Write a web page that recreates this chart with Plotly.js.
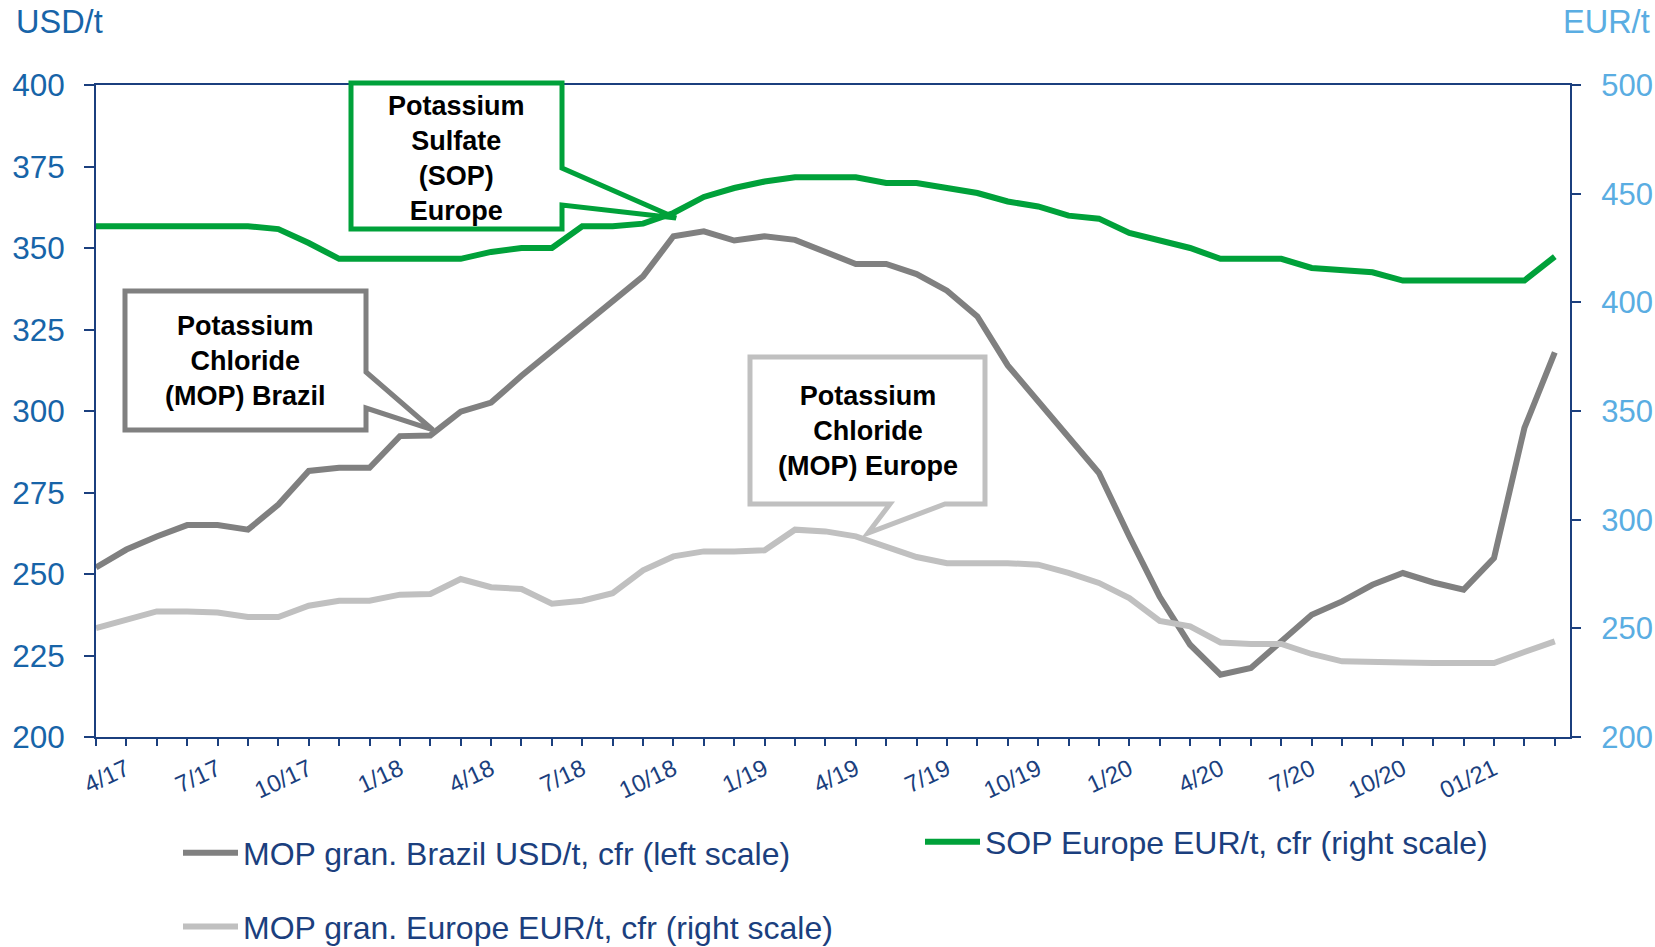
<!DOCTYPE html>
<html><head><meta charset="utf-8">
<script src="https://cdn.plot.ly/plotly-3.0.1.min.js"></script>
<style>html,body{margin:0;padding:0;background:#fff}#chart{width:1655px;height:947px}</style>
</head><body><div id="chart"></div>
<script>
// ---- data ----
const months = ['Mar 2017','Apr 2017','May 2017','Jun 2017','Jul 2017','Aug 2017','Sep 2017','Oct 2017','Nov 2017','Dec 2017',
  'Jan 2018','Feb 2018','Mar 2018','Apr 2018','May 2018','Jun 2018','Jul 2018','Aug 2018','Sep 2018','Oct 2018','Nov 2018','Dec 2018',
  'Jan 2019','Feb 2019','Mar 2019','Apr 2019','May 2019','Jun 2019','Jul 2019','Aug 2019','Sep 2019','Oct 2019','Nov 2019','Dec 2019',
  'Jan 2020','Feb 2020','Mar 2020','Apr 2020','May 2020','Jun 2020','Jul 2020','Aug 2020','Sep 2020','Oct 2020','Nov 2020','Dec 2020',
  'Jan 2021','Feb 2021','Mar 2021'];
const tickMonths = ['Apr 2017','Jul 2017','Oct 2017','Jan 2018','Apr 2018','Jul 2018','Oct 2018','Jan 2019',
  'Apr 2019','Jul 2019','Oct 2019','Jan 2020','Apr 2020','Jul 2020','Oct 2020','Jan 2021'];
const tickLabels = ['4/17','7/17','10/17','1/18','4/18','7/18','10/18','1/19',
  '4/19','7/19','10/19','1/20','4/20','7/20','10/20','01/21'];

const mopBrazilUSD = [252, 257.5, 261.5, 265, 265, 263.6, 271.3, 281.6, 282.6, 282.6,
  292.3, 292.5, 299.8, 302.6, 310.8, 318.4, 326, 333.5, 341.3, 353.6,
  355.1, 352.3, 353.6, 352.5, 348.8, 345.1, 345.1, 342, 336.9, 329,
  314, 303, 291.5, 281, 261.5, 243, 228.3, 219.1, 221.2, 229.4,
  237.5, 241.6, 246.7, 250.3, 247.4, 245.2, 254.9, 294.8, 318];
const sopEuropeEUR = [435, 435, 435, 435, 435, 435, 433.7, 427.3, 420, 420,
  420, 420, 420, 423.2, 425, 425, 435, 435, 436.2, 441.1,
  448.5, 452.6, 455.6, 457.5, 457.5, 457.5, 454.9, 454.9, 452.6, 450.3,
  446.4, 444.1, 439.9, 438.5, 431.9, 428.8, 425, 420, 420, 420,
  415.8, 415, 413.8, 410, 410, 410, 410, 410, 421];
const mopEuropeEUR = [250.1, 253.9, 257.8, 257.8, 257.3, 255.2, 255.2, 260.4, 262.7, 262.7,
  265.5, 265.8, 272.7, 268.9, 268.1, 261.3, 262.7, 266.2, 276.7, 283.1,
  285.4, 285.4, 285.9, 295.4, 294.6, 292.3, 287.7, 282.8, 280, 280,
  280, 279.3, 275.5, 270.9, 263.9, 253.4, 250.9, 243.5, 242.8, 242.8,
  238.2, 234.8, 234.8, 234.3, 234, 234, 234, 239.1, 244];

const seriesNames = ['MOP gran. Brazil USD/t, cfr (left scale)',
  'SOP Europe EUR/t, cfr (right scale)',
  'MOP gran. Europe EUR/t, cfr (right scale)'];

// ---- styling ----
const FONT = '"Liberation Sans", Arial, sans-serif';
const NAVY = '#1B3F7E';
const BLUE = '#1764A8';
const LIGHTBLUE = '#5AADE2';
const DARKGRAY = '#808080';
const LIGHTGRAY = '#C0C0C0';
const GREEN = '#00A13A';

const W = 1655, H = 947;
const M = {l: 96, r: 85, t: 85, b: 210, autoexpand: false};
const PW = W - M.l - M.r, PH = H - M.t - M.b;
const px = x => (x - M.l) / PW;       // pixel -> paper x
const py = y => (H - M.b - y) / PH;   // pixel -> paper y
function pathPx(pts) {
  return 'M' + pts.map(p => px(p[0]).toFixed(5) + ',' + py(p[1]).toFixed(5)).join(' L') + ' Z';
}

const tickText = months.map(m => { const k = tickMonths.indexOf(m); return k >= 0 ? tickLabels[k] : ''; });

const traces = [
  {x: months, y: mopBrazilUSD, name: seriesNames[0], type: 'scatter', mode: 'lines', yaxis: 'y',
   line: {color: DARKGRAY, width: 6}, legend: 'legend', legendgroup: 'a', legendrank: 1},
  {x: months, y: mopEuropeEUR, name: seriesNames[2], type: 'scatter', mode: 'lines', yaxis: 'y2',
   line: {color: LIGHTGRAY, width: 6}, legend: 'legend', legendgroup: 'b', legendrank: 2},
  {x: months, y: sopEuropeEUR, name: seriesNames[1], type: 'scatter', mode: 'lines', yaxis: 'y2',
   line: {color: GREEN, width: 6}, legend: 'legend2', legendgroup: 'c', legendrank: 3}
];

const calloutFont = {family: FONT, size: 27, color: '#000'};
const layout = {
  width: W, height: H, margin: M,
  paper_bgcolor: '#fff', plot_bgcolor: '#fff',
  font: {family: FONT},
  hovermode: false,
  xaxis: {type: 'category', range: [0, 48.5], tickmode: 'array', tickvals: months, ticktext: tickText,
    tickangle: -25, ticks: 'outside', ticklen: 7, tickwidth: 2, tickcolor: NAVY, automargin: false,
    showline: true, linecolor: NAVY, linewidth: 2, mirror: true, showgrid: false, zeroline: false,
    tickfont: {family: FONT, size: 24, color: NAVY}, fixedrange: true},
  yaxis: {range: [200, 400], tick0: 200, dtick: 25, ticks: 'outside', ticklen: 10, tickwidth: 2, tickcolor: NAVY,
    showline: true, linecolor: NAVY, linewidth: 2, showgrid: false, zeroline: false, automargin: false,
    tickfont: {family: FONT, size: 31.5, color: BLUE}, ticklabelstandoff: 13},
  yaxis2: {overlaying: 'y', side: 'right', range: [200, 500], tick0: 200, dtick: 50, ticks: 'outside', ticklen: 9,
    tickwidth: 2, tickcolor: NAVY, showline: true, linecolor: NAVY, linewidth: 2, showgrid: false, zeroline: false,
    automargin: false, tickfont: {family: FONT, size: 31, color: LIGHTBLUE}, ticklabelstandoff: 14},
  showlegend: true,
  legend: {x: px(178), y: py(825.5), xanchor: 'left', yanchor: 'top', orientation: 'v',
    font: {family: FONT, size: 32, color: NAVY}, tracegroupgap: 29, itemwidth: 55, bgcolor: 'rgba(0,0,0,0)'},
  legend2: {x: px(920), y: py(814.5), xanchor: 'left', yanchor: 'top', orientation: 'v',
    font: {family: FONT, size: 32, color: NAVY}, itemwidth: 55, bgcolor: 'rgba(0,0,0,0)'},
  shapes: [
    {type: 'path', xref: 'paper', yref: 'paper', layer: 'above', line: {color: GREEN, width: 5}, fillcolor: 'rgba(0,0,0,0)',
     path: pathPx([[562,168],[562,83],[351,83],[351,229],[562,229],[562,205],[676,218]])},
    {type: 'path', xref: 'paper', yref: 'paper', layer: 'above', line: {color: DARKGRAY, width: 5}, fillcolor: 'rgba(0,0,0,0)',
     path: pathPx([[366,372],[366,291],[125,291],[125,430],[366,430],[366,408],[433,430]])},
    {type: 'path', xref: 'paper', yref: 'paper', layer: 'above', line: {color: LIGHTGRAY, width: 5}, fillcolor: 'rgba(0,0,0,0)',
     path: pathPx([[945,504],[985,504],[985,357],[750,357],[750,504],[890,504],[868,533]])}
  ],
  annotations: [
    {xref: 'paper', yref: 'paper', x: px(14), y: py(22), xanchor: 'left', yanchor: 'middle', showarrow: false,
     text: 'USD/t', font: {family: FONT, size: 32.5, color: BLUE}},
    {xref: 'paper', yref: 'paper', x: px(1652), y: py(22), xanchor: 'right', yanchor: 'middle', showarrow: false,
     text: 'EUR/t', font: {family: FONT, size: 32.5, color: LIGHTBLUE}},
    {xref: 'paper', yref: 'paper', x: px(456), y: py(158), xanchor: 'center', yanchor: 'middle', showarrow: false,
     align: 'center', text: '<b>Potassium<br>Sulfate<br>(SOP)<br>Europe</b>', font: calloutFont},
    {xref: 'paper', yref: 'paper', x: px(245.5), y: py(361), xanchor: 'center', yanchor: 'middle', showarrow: false,
     align: 'center', text: '<b>Potassium<br>Chloride<br>(MOP) Brazil</b>', font: calloutFont},
    {xref: 'paper', yref: 'paper', x: px(867.5), y: py(431), xanchor: 'center', yanchor: 'middle', showarrow: false,
     align: 'center', text: '<b>Potassium<br>Chloride<br>(MOP) Europe</b>', font: calloutFont}
  ]
};

Plotly.newPlot('chart', traces, layout, {displayModeBar: false, staticPlot: true});
</script>
</body></html>
